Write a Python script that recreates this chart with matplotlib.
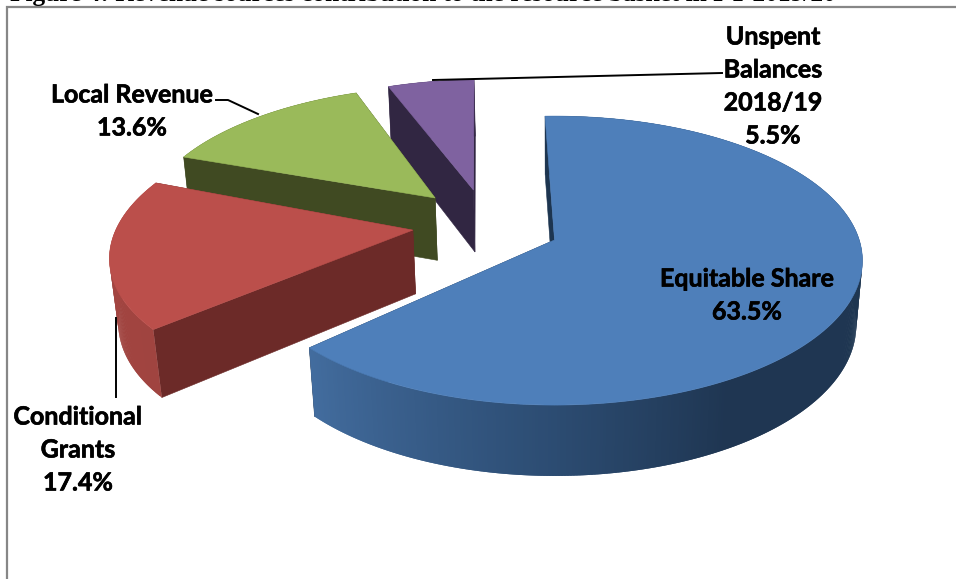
import numpy as np
import matplotlib
matplotlib.use("Agg")
import matplotlib.pyplot as plt
import matplotlib.patheffects as pe
from matplotlib.colors import to_rgb
from matplotlib.patches import Polygon

# Revenue shares, in percent, in drawing order from 12 o'clock going clockwise
categories = ["Equitable Share", "Conditional\nGrants", "Local Revenue", "Unspent\nBalances\n2018/19"]
shares = [63.5, 17.4, 13.6, 5.5]
top_colors = ["#4e7fba", "#bb4f4b", "#9aba5a", "#7f62a0"]
face_colors = ["#1d3550", "#6c2a28", "#404a22", "#312642"]
wall_stops = [
    ([0, 150, 180, 227], ["#1d3550", "#1f3652", "#2c4c72", "#436d9f"]),
    ([227, 292], ["#a04440", "#a54642"]),
    ([290, 339], ["#404a22", "#404a22"]),
    ([339, 359], ["#312642", "#312642"]),
]
title = "Figure 4: Revenue sources contribution to the resource basket in FY 2019/20"

# Slice placement on the tilted disc: pulled-out apex, radius and small turn of each slice
START_ANGLE = -1.5
SLICE_OFFSET = [(0.005, 0.0), (-0.46, 0.07), (-0.40, 0.307), (-0.272, 0.368)]
SLICE_RADIUS = [0.99, 0.975, 0.966, 0.97]
SLICE_TURN = [-0.5, 1.5, 0.0, -0.5]

X0, Y0, RX, RY = 553.0, 240.0, 307.8, 143.0
PERSP, DEPTH_PERSP, DEPTH = 0.1438, 0.02, 65.5

FONT = "Lato"
LABEL_SIZE = 18.0


def project(u, v, z=0.0):
    """Perspective projection of disc coordinates onto the page; z=1 is the underside."""
    w = 1 + PERSP * v + DEPTH_PERSP * z
    return X0 + RX * u / w, Y0 + (DEPTH * z - RY * v) / w


def rim(theta, off, radius):
    t = np.radians(theta)
    return off[0] + radius * np.sin(t), off[1] + radius * np.cos(t)


fig = plt.figure(figsize=(9.56, 5.79), dpi=100, facecolor="white")
ax = fig.add_axes([0, 0, 1, 1])
ax.set_xlim(0, 956)
ax.set_ylim(579, 0)
ax.axis("off")

# Chart frame: only the top and left edges fall inside the page
ax.plot([7, 7, 956], [579, 6.5, 6.5], color="#878787", lw=1.6, solid_joinstyle="miter", zorder=1)

edges = START_ANGLE + np.concatenate([[0], np.cumsum(shares)]) * 3.6
z = 2
# The back slices are painted first, so the front ones overlap them
for i in range(len(shares) - 1, -1, -1):
    a0, a1 = edges[i] + SLICE_TURN[i], edges[i + 1] + SLICE_TURN[i]
    off, rad = SLICE_OFFSET[i], SLICE_RADIUS[i]
    thetas = np.linspace(a0, a1, int(max(a1 - a0, 8) * 2) + 1)

    # Radial faces
    for a in (a0, a1):
        u, v = rim(a, off, rad)
        quad = [project(*off), project(u, v), project(u, v, 1), project(off[0], off[1], 1)]
        ax.add_patch(Polygon(quad, closed=True, fc=face_colors[i], ec=face_colors[i], lw=0.4, zorder=z))
    z += 1

    # Outer wall in shaded strips, each one lapped by the next so no seams show
    angs, cols = wall_stops[i]
    rgb = np.array([to_rgb(c) for c in cols])
    for j in range(len(thetas) - 1):
        t0, t1 = thetas[j], thetas[min(j + 2, len(thetas) - 1)]
        u0, v0 = rim(t0, off, rad)
        u1, v1 = rim(t1, off, rad)
        col = [np.interp(thetas[j], angs, rgb[:, k]) for k in range(3)]
        quad = [project(u0, v0), project(u1, v1), project(u1, v1, 1), project(u0, v0, 1)]
        ax.add_patch(Polygon(quad, closed=True, fc=col, ec="none", lw=0, zorder=z))
        z += 0.001
    z = np.ceil(z)

    # Top surface
    us, vs = rim(thetas, off, rad)
    pts = [project(*off)] + [project(a, b) for a, b in zip(us, vs)]
    ax.add_patch(Polygon(pts, closed=True, fc=top_colors[i], ec=top_colors[i], lw=0.4, zorder=z))
    z += 1

# Leader lines
ax.plot([433, 722], [80, 73], color="black", lw=1.4, zorder=50)
ax.plot([216, 228, 258], [100, 100, 114], color="black", lw=1.4, zorder=50)
ax.plot([116, 116], [318, 397], color="black", lw=1.4, zorder=50)

# Data labels, one line per row of text
label_pos = [(747, 279), (78, 417), (132, 95), (773, 37)]
heavier = [pe.withStroke(linewidth=0.45, foreground="black")]
for name, val, (x, y) in zip(categories, shares, label_pos):
    for k, line in enumerate(name.split("\n") + [f"{val:.1f}%"]):
        ax.text(x, y + 33 * k, line, ha="center", va="center", fontsize=LABEL_SIZE,
                fontweight="bold", family=FONT, color="black", zorder=60, path_effects=heavier)

# Caption above the frame, cut off by the page edge
ax.text(10, 1, title, ha="left", va="baseline", fontsize=18.3, fontweight="bold",
        family="Liberation Serif", color="black", clip_on=False, zorder=60)

fig.savefig("out.png", dpi=100)
